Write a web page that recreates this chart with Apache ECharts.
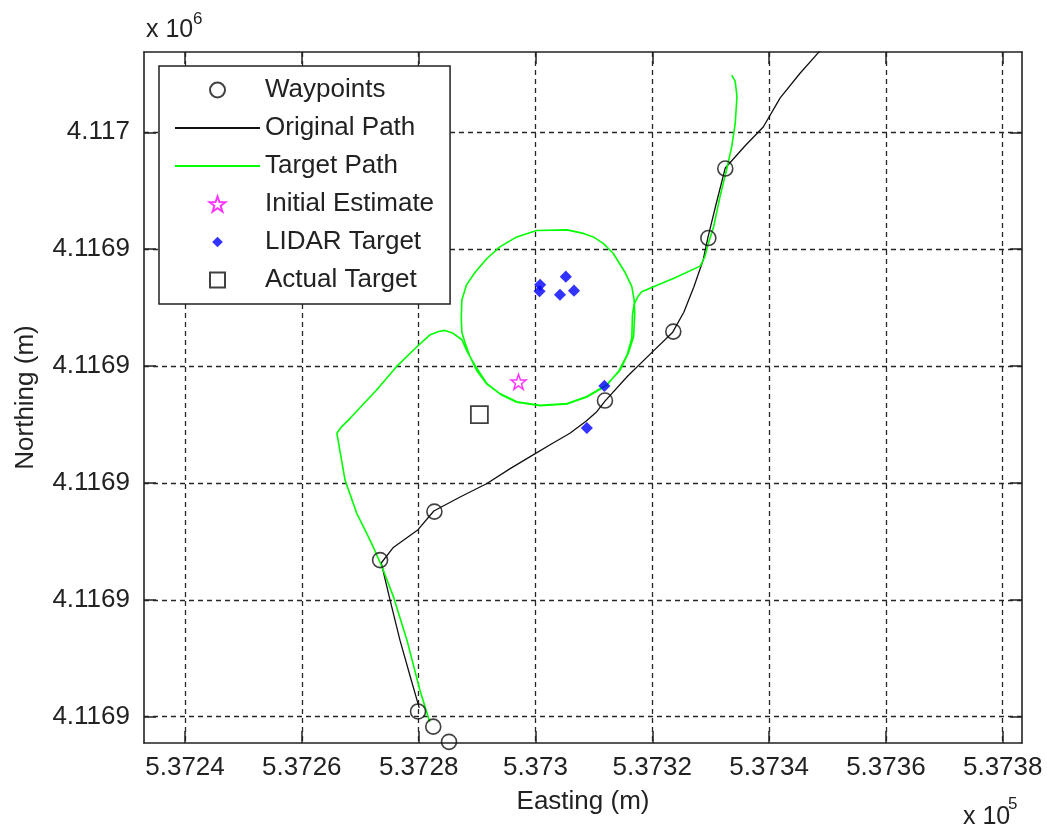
<!DOCTYPE html>
<html>
<head>
<meta charset="utf-8">
<title>Easting / Northing track</title>
<script src="https://cdn.jsdelivr.net/npm/echarts@6/dist/echarts.min.js"></script>
<style>
html, body { margin: 0; padding: 0; background: #fff; }
#chart { width: 1047px; height: 831px; }
</style>
</head>
<body>
<div id="chart"></div>
<script>
// ---- Data (UTM metres) ----
const waypointEasting  = [537279.9, 537282.5, 537285.2, 537273.4, 537282.7, 537311.9, 537323.6, 537329.6, 537332.5];
const waypointNorthing = [4116900.9, 4116898.3, 4116895.7, 4116926.8, 4116935.1, 4116954.1, 4116965.9, 4116981.9, 4116993.8];

const originalEasting = [537280.1, 537278.5, 537276.8, 537275.1, 537273.6, 537275.6, 537279.9, 537282.6,
  537287.1, 537291.7, 537295.6, 537299.6, 537302.8, 537305.9, 537308.7, 537310.5, 537311.9, 537315.8,
  537319.9, 537323.5, 537325.4, 537327.1, 537328.7, 537329.5, 537330.9, 537332.5, 537335.9, 537339.0,
  537341.9, 537345.3, 537348.4, 537349.6];
const originalNorthing = [4116901.5, 4116907.1, 4116913.1, 4116920.0, 4116926.3, 4116928.9, 4116932.0, 4116935.2,
  4116937.6, 4116939.9, 4116942.4, 4116944.8, 4116946.7, 4116948.5, 4116950.6, 4116952.2, 4116954.0, 4116958.3,
  4116962.3, 4116965.8, 4116969.2, 4116973.5, 4116978.1, 4116981.9, 4116987.6, 4116993.9, 4116997.7, 4117000.9,
  4117005.9, 4117010.1, 4117013.6, 4117014.8];

const targetEasting = [537281.9, 537280.2, 537278.0, 537275.7, 537273.7, 537272.2, 537270.8, 537269.4,
  537267.4, 537266.3, 537266.0, 537266.8, 537268.3, 537272.8, 537276.2, 537279.7, 537281.9, 537283.4,
  537284.5, 537285.9, 537287.4, 537288.2, 537289.9, 537291.7, 537293.9, 537296.8, 537300.8, 537305.4,
  537308.8, 537312.2, 537314.5, 537315.9, 537316.8, 537317.0, 537316.9, 537316.5, 537315.3, 537313.3,
  537311.6, 537309.9, 537308.2, 537305.4, 537300.2, 537296.8, 537293.9, 537291.7, 537289.7, 537288.2,
  537287.4, 537287.3, 537287.4, 537287.9, 537288.8, 537289.9, 537291.7, 537294.1, 537296.8, 537300.8,
  537305.4, 537308.8, 537312.1, 537314.3, 537315.7, 537316.5, 537316.6, 537316.9, 537317.6, 537318.2,
  537319.6, 537323.6, 537328.2, 537329.0, 537329.6, 537330.5, 537331.6, 537332.7, 537333.6, 537334.2,
  537334.5, 537334.2, 537333.6];
const targetNorthing = [4116899.1, 4116904.6, 4116913.1, 4116920.5, 4116925.7, 4116929.1, 4116932.0, 4116934.8,
  4116940.5, 4116946.8, 4116948.5, 4116949.6, 4116951.1, 4116955.9, 4116959.9, 4116963.3, 4116965.3, 4116965.9,
  4116966.1, 4116965.6, 4116964.5, 4116962.7, 4116959.7, 4116957.0, 4116955.3, 4116953.9, 4116953.3, 4116953.6,
  4116954.8, 4116956.8, 4116959.3, 4116962.2, 4116965.0, 4116969.0, 4116971.3, 4116973.6, 4116976.1, 4116979.3,
  4116981.0, 4116982.1, 4116982.7, 4116983.3, 4116983.2, 4116982.1, 4116980.4, 4116978.4, 4116976.1, 4116973.9,
  4116971.3, 4116968.2, 4116965.8, 4116964.1, 4116961.6, 4116959.3, 4116956.9, 4116955.1, 4116953.8, 4116953.2,
  4116953.5, 4116954.7, 4116956.6, 4116959.2, 4116961.9, 4116964.8, 4116968.7, 4116970.6, 4116972.0, 4116972.7,
  4116973.3, 4116975.0, 4116977.1, 4116978.7, 4116981.0, 4116983.8, 4116989.0, 4116993.5, 4116997.5, 4117001.5,
  4117006.1, 4117008.7, 4117009.8];

const initialEstimateEasting  = [537297.1];
const initialEstimateNorthing = [4116957.3];

const lidarEasting  = [537300.8, 537300.7, 537305.2, 537304.2, 537306.6, 537311.8, 537308.8];
const lidarNorthing = [4116973.9, 4116972.8, 4116975.3, 4116972.2, 4116972.9, 4116956.6, 4116949.4];

const actualTargetEasting  = [537290.4];
const actualTargetNorthing = [4116951.7];

// ---- Axis ticks and their printed labels ----
const xTickValues = [537240, 537260, 537280, 537300, 537320, 537340, 537360, 537380];
const xTickLabels = ['5.3724', '5.3726', '5.3728', '5.373', '5.3732', '5.3734', '5.3736', '5.3738'];
const yTickValues = [4116900, 4116920, 4116940, 4116960, 4116980, 4117000];
const yTickLabels = ['4.1169', '4.1169', '4.1169', '4.1169', '4.1169', '4.117'];

const legendNames = ['Waypoints', 'Original Path', 'Target Path', 'Initial Estimate', 'LIDAR Target', 'Actual Target'];

// ---- Axis extents ----
const X_MIN = 537232.98, X_MAX = 537383.30;
const Y_MIN = 4116895.50, Y_MAX = 4117013.74;

const FONT = "'Liberation Sans', Arial, Helvetica, sans-serif";
const INK = '#222';

const zip = (a, b) => a.map((v, i) => [v, b[i]]);

// Marker outlines; the leading move-to points pad the box so the shape keeps its size in the legend.
const STAR    = 'path://M0,-10L2.35,-3.24L9.51,-3.09L3.8,1.24L5.88,8.09L0,4L-5.88,8.09L-3.8,1.24L-9.51,-3.09L-2.35,-3.24Z';
const DIAMOND = 'path://M-7,-7M7,7M0,-5L5,0L0,5L-5,0Z';
const SQUARE  = 'path://M-5,-5L5,-5L5,5L-5,5Z';

const gridLine = { show: true, lineStyle: { color: '#262626', width: 1.3, type: [5, 4] } };
const frameLine = { show: true, onZero: false, lineStyle: { color: INK, width: 1.6 } };

function boxAxis(base, ticks) {
  return Object.assign({
    type: 'value',
    axisLine: frameLine,
    axisTick: { show: true, inside: true, length: 12, customValues: ticks, lineStyle: { color: INK, width: 1.5 } },
    silent: true
  }, base);
}

const option = {
  animation: false,
  backgroundColor: '#fff',
  textStyle: { fontFamily: FONT },
  grid: { left: 144, right: 25, top: 52, bottom: 88, containLabel: false, outerBoundsMode: 'none' },
  xAxis: [
    boxAxis({
      position: 'bottom', min: X_MIN, max: X_MAX,
      name: 'Easting (m)', nameLocation: 'middle', nameGap: 46,
      nameTextStyle: { fontSize: 26, color: INK, fontFamily: FONT },
      axisLabel: {
        show: true, customValues: xTickValues, margin: 12,
        fontSize: 26, color: INK, fontFamily: FONT,
        formatter: v => xTickLabels[xTickValues.indexOf(v)]
      },
      splitLine: gridLine
    }, xTickValues),
    boxAxis({
      position: 'top', min: X_MIN, max: X_MAX,
      axisLabel: { show: false }, splitLine: { show: false }
    }, xTickValues)
  ],
  yAxis: [
    boxAxis({
      position: 'left', min: Y_MIN, max: Y_MAX,
      name: 'Northing (m)', nameLocation: 'middle', nameGap: 105,
      nameTextStyle: { fontSize: 26, color: INK, fontFamily: FONT },
      axisLabel: {
        show: true, customValues: yTickValues, margin: 14,
        fontSize: 26, color: INK, fontFamily: FONT,
        formatter: v => yTickLabels[yTickValues.indexOf(v)]
      },
      splitLine: gridLine
    }, yTickValues),
    boxAxis({
      position: 'right', min: Y_MIN, max: Y_MAX,
      axisLabel: { show: false }, splitLine: { show: false }
    }, yTickValues)
  ],
  legend: {
    data: legendNames.map(name => (
      name === 'Original Path' || name === 'Target Path'
        ? { name: name, itemStyle: { opacity: 0 } }
        : { name: name }
    )),
    orient: 'vertical',
    left: 159, top: 66,
    padding: [9, 16, 9, 15],
    itemWidth: 85, itemHeight: 15, itemGap: 8,
    backgroundColor: '#fff',
    borderColor: INK, borderWidth: 1.5, borderRadius: 0,
    selectedMode: false,
    textStyle: { fontSize: 26, lineHeight: 30, color: INK, fontFamily: FONT },
    z: 20
  },
  graphic: [
    { type: 'text', x: 146, y: 30, silent: true,
      style: { text: 'x 10', font: '25px ' + FONT, fill: INK, align: 'left', verticalAlign: 'middle' } },
    { type: 'text', x: 193, y: 19, silent: true,
      style: { text: '6', font: '17px ' + FONT, fill: INK, align: 'left', verticalAlign: 'middle' } },
    { type: 'text', x: 963, y: 817, silent: true,
      style: { text: 'x 10', font: '25px ' + FONT, fill: INK, align: 'left', verticalAlign: 'middle' } },
    { type: 'text', x: 1008, y: 804, silent: true,
      style: { text: '5', font: '17px ' + FONT, fill: INK, align: 'left', verticalAlign: 'middle' } }
  ],
  series: [
    {
      name: 'Original Path', type: 'line', data: zip(originalEasting, originalNorthing),
      symbol: 'none', showSymbol: false, clip: true, z: 2,
      lineStyle: { color: '#111', width: 1.3 }, itemStyle: { color: '#111' },
      emphasis: { disabled: true }
    },
    {
      name: 'Target Path', type: 'line', data: zip(targetEasting, targetNorthing),
      symbol: 'none', showSymbol: false, clip: true, z: 3,
      lineStyle: { color: '#00ff00', width: 1.6 }, itemStyle: { color: '#00ff00' },
      emphasis: { disabled: true }
    },
    {
      name: 'Waypoints', type: 'scatter', data: zip(waypointEasting, waypointNorthing),
      symbol: 'circle', symbolSize: 15, clip: false, z: 5,
      itemStyle: { color: 'rgba(255,255,255,0)', borderColor: '#111', borderWidth: 1.6 },
      emphasis: { disabled: true }
    },
    {
      name: 'Initial Estimate', type: 'scatter', data: zip(initialEstimateEasting, initialEstimateNorthing),
      symbol: STAR, symbolSize: 15, z: 5,
      itemStyle: { color: 'rgba(255,255,255,0)', borderColor: '#ff00ff', borderWidth: 1.5 },
      emphasis: { disabled: true }
    },
    {
      name: 'LIDAR Target', type: 'scatter', data: zip(lidarEasting, lidarNorthing),
      symbol: DIAMOND, symbolSize: 17, z: 5,
      itemStyle: { color: '#0000ff' },
      emphasis: { disabled: true }
    },
    {
      name: 'Actual Target', type: 'scatter', data: zip(actualTargetEasting, actualTargetNorthing),
      symbol: SQUARE, symbolSize: 17, z: 5,
      itemStyle: { color: 'rgba(255,255,255,0)', borderColor: '#111', borderWidth: 1.8 },
      emphasis: { disabled: true }
    }
  ]
};

const chart = echarts.init(document.getElementById('chart'), null, { renderer: 'canvas' });
chart.setOption(option);
</script>
</body>
</html>
